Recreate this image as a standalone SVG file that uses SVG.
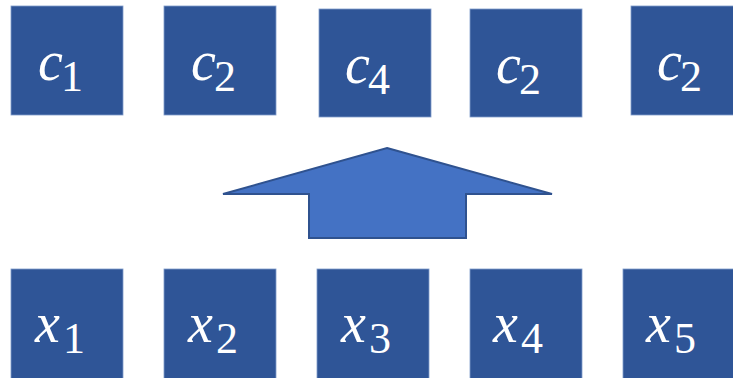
<svg xmlns="http://www.w3.org/2000/svg" width="733" height="378" viewBox="0 0 733 378">
<style>
.box{fill:#2F5597;stroke:#7F9CCB;stroke-width:0.8}
.t{font-family:"Liberation Serif",serif;fill:#fff}
.v{font-style:italic;font-size:56px}
.s{font-style:normal;font-size:44px}
.arrow{fill:#4472C4;stroke:#2F528F;stroke-width:2;stroke-linejoin:miter}
</style>
<rect width="733" height="378" fill="#fff"/>
<g id="c1"><rect class="box" x="11" y="6" width="112" height="109"/><text class="t"><tspan class="v" x="38" y="80">c</tspan><tspan class="s" x="61" y="91">1</tspan></text></g>
<g id="c2a"><rect class="box" x="164" y="6" width="112" height="109"/><text class="t"><tspan class="v" x="191" y="80">c</tspan><tspan class="s" x="214" y="91">2</tspan></text></g>
<g id="c4"><rect class="box" x="319" y="9" width="112" height="108"/><text class="t"><tspan class="v" x="345" y="83">c</tspan><tspan class="s" x="368" y="94">4</tspan></text></g>
<g id="c2b"><rect class="box" x="470" y="9" width="112" height="108"/><text class="t"><tspan class="v" x="496" y="83">c</tspan><tspan class="s" x="519" y="94">2</tspan></text></g>
<g id="c2c"><rect class="box" x="631" y="6" width="112" height="109"/><text class="t"><tspan class="v" x="657" y="80">c</tspan><tspan class="s" x="680" y="91">2</tspan></text></g>
<g id="x1"><rect class="box" x="11" y="269" width="112" height="115"/><text class="t"><tspan class="v" x="35" y="342">x</tspan><tspan class="s" x="63" y="353">1</tspan></text></g>
<g id="x2"><rect class="box" x="164" y="269" width="112" height="115"/><text class="t"><tspan class="v" x="188" y="342">x</tspan><tspan class="s" x="216" y="353">2</tspan></text></g>
<g id="x3"><rect class="box" x="317" y="269" width="112" height="115"/><text class="t"><tspan class="v" x="341" y="342">x</tspan><tspan class="s" x="369" y="353">3</tspan></text></g>
<g id="x4"><rect class="box" x="470" y="269" width="112" height="115"/><text class="t"><tspan class="v" x="493" y="342">x</tspan><tspan class="s" x="521" y="353">4</tspan></text></g>
<g id="x5"><rect class="box" x="623" y="269" width="112" height="115"/><text class="t"><tspan class="v" x="646" y="342">x</tspan><tspan class="s" x="674" y="353">5</tspan></text></g>
<g id="connectors"><polygon class="arrow" points="387,148 552,194 466,194 466,238 309,238 309,194 223,194"/></g>
</svg>
